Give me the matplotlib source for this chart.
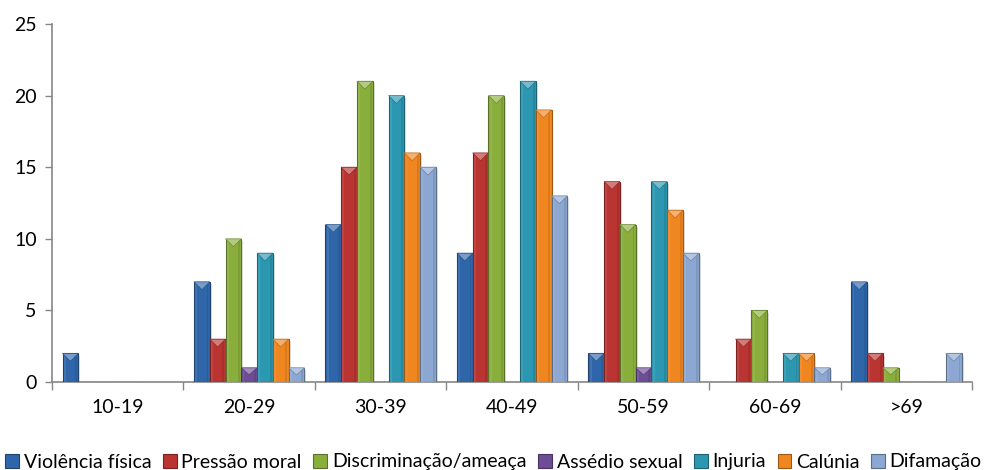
import matplotlib
matplotlib.use("Agg")
import matplotlib.pyplot as plt
import numpy as np
from matplotlib.patches import Polygon, Rectangle
from matplotlib.colors import to_rgb

categories = ["10-19", "20-29", "30-39", "40-49", "50-59", "60-69", ">69"]
series_names = ["Violência física", "Pressão moral", "Discriminação/ameaça",
                "Assédio sexual", "Injuria", "Calúnia", "Difamação"]
violencia = [2, 7, 11, 9, 2, 0, 7]
pressao = [0, 3, 15, 16, 14, 3, 2]
discriminacao = [0, 10, 21, 20, 11, 5, 1]
assedio = [0, 1, 0, 0, 1, 0, 0]
injuria = [0, 9, 20, 21, 14, 2, 0]
calunia = [0, 3, 16, 19, 12, 2, 0]
difamacao = [0, 1, 15, 13, 9, 1, 2]
values = [violencia, pressao, discriminacao, assedio, injuria, calunia, difamacao]
colors = ["#2F66AA", "#BA3431", "#8AAE3C", "#6D4D95", "#2B97B1", "#F0861F", "#8BA7D2"]

plt.rcParams['font.family'] = ['Lato', 'DejaVu Sans']

fig = plt.figure(figsize=(9.87, 4.70), dpi=100)
ax = fig.add_axes([0.0527, 0.187, 0.9323, 0.762])

n = len(series_names)
x = np.arange(len(categories))
group_w = 0.84
bw = group_w / n

def lighten(c, f):
    r, g, b = to_rgb(c)
    return (r + (1 - r) * f, g + (1 - g) * f, b + (1 - b) * f)

def darken(c, f):
    r, g, b = to_rgb(c)
    return (r * (1 - f), g * (1 - f), b * (1 - f))

for i, (vals, col) in enumerate(zip(values, colors)):
    xs = x - group_w / 2 + bw * (i + 0.5)
    bars = ax.bar(xs, vals, width=bw, color=col, edgecolor=darken(col, 0.35),
                  linewidth=0.8, zorder=3, label=series_names[i])
    for b, v in zip(bars, vals):
        if v <= 0:
            continue
        x0 = b.get_x()
        w = b.get_width()
        ax.add_patch(Rectangle((x0 + w * 0.12, 0), w, v - 0.15, facecolor="#000000",
                               alpha=0.12, linewidth=0, zorder=2))
        ax.add_patch(Rectangle((x0 + w * 0.08, 0), w * 0.12, v, facecolor=lighten(col, 0.15),
                               linewidth=0, zorder=3.5, alpha=0.6))
        ax.add_patch(Rectangle((x0 + w * 0.80, 0), w * 0.12, v, facecolor=darken(col, 0.15),
                               linewidth=0, zorder=3.5, alpha=0.6))
        depth = min(0.55, v * 0.5)
        tri = Polygon([[x0, v], [x0 + w, v], [x0 + w / 2, v - depth]], closed=True,
                      facecolor=lighten(col, 0.35), edgecolor=darken(col, 0.2),
                      linewidth=0.5, zorder=4)
        ax.add_patch(tri)

ax.set_xlim(-0.5, len(categories) - 0.5)
ax.set_ylim(0, 25)
ax.set_yticks(range(0, 26, 5))
ax.tick_params(axis='y', labelsize=14, length=5, width=1, color="#868686", pad=6)
ax.set_xticks(x)
ax.set_xticklabels(categories, fontsize=14)
ax.tick_params(axis='x', length=0, pad=12)
ax.set_xticks(np.arange(-0.5, len(categories), 1), minor=True)
ax.tick_params(axis='x', which='minor', length=6, width=1, color="#868686")

for s in ["top", "right"]:
    ax.spines[s].set_visible(False)
for s in ["left", "bottom"]:
    ax.spines[s].set_color("#868686")
    ax.spines[s].set_linewidth(1.2)

leg = fig.legend(loc="center", bbox_to_anchor=(0.5, 1 - 462 / 470), ncol=7, frameon=False,
                 fontsize=14, handlelength=0.7, handleheight=0.7, handletextpad=0.25,
                 columnspacing=0.6, borderaxespad=0)

fig.savefig("out.png", dpi=100)
